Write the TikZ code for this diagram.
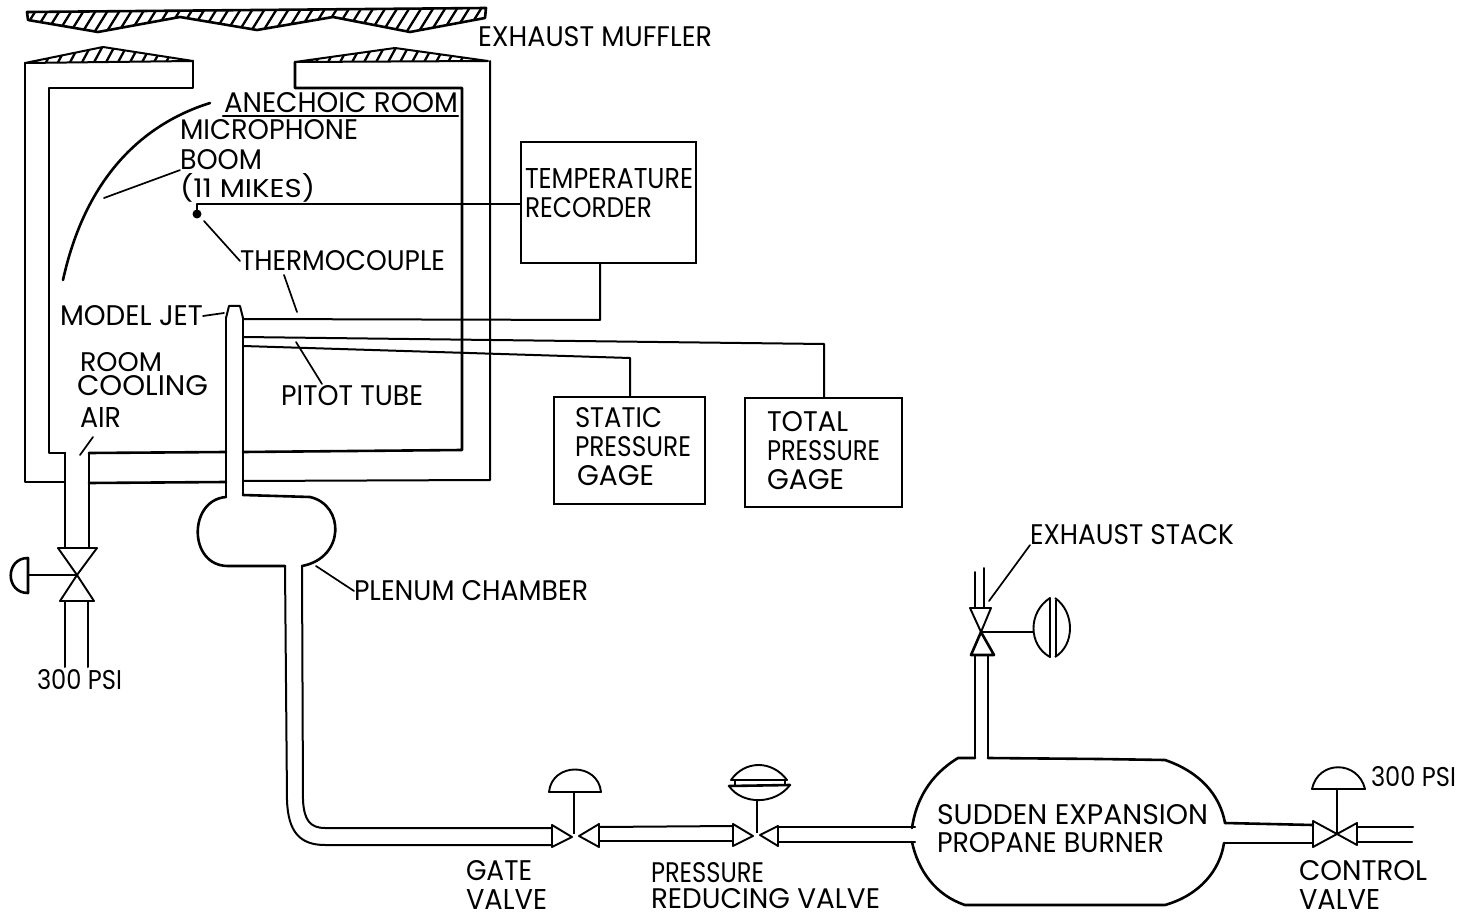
\documentclass[tikz,border=0pt]{standalone}
\usepackage{fontspec}
\setmainfont{Poppins}
\usepackage{graphicx}
\tikzset{
  wall/.style={line width=2.6pt,line join=round,line cap=round},
  pipe/.style={line width=2pt,line join=round,line cap=round},
  leader/.style={line width=1.7pt,line cap=round},
  instr/.style={line width=1.9pt,line join=round},
  boxn/.style={draw,line width=2pt,inner sep=0pt,fill=none},
  lab/.style={anchor=west,inner sep=0pt,outer sep=0pt},
  hatchline/.style={line width=2.3pt}
}
% name, left x, right x, centre y, height, text
\newcommand{\lbl}[6]{%
  \pgfmathsetlengthmacro{\lblw}{(#3-#2)*1pt}%
  \node[lab] (#1) at (#2,#4) {\resizebox{\lblw}{#5pt}{#6}};}
\begin{document}
\begin{tikzpicture}[x=1pt,y=-1pt]
\useasboundingbox (0,0) rectangle (1462,917);
% ---- muffler and roofs
\begin{scope}
 \clip (27,12) -- (486,8) -- (485,18) -- (410,32) -- (333,17) -- (257,30) -- (180,17) -- (98,32) -- (28,20) -- cycle;
 \foreach \x in {20,32,...,490}{\draw[hatchline] (\x,36) -- (\x+20,4);}
\end{scope}
\draw[wall] (27,12) -- (486,8) -- (485,18) -- (410,32) -- (333,17) -- (257,30) -- (180,17) -- (98,32) -- (28,20) -- cycle;
\begin{scope}
 \clip (25,63) -- (103,47) -- (193,61) -- cycle;
 \foreach \x in {20,32,...,200}{\draw[hatchline] (\x,66) -- (\x+13,42);}
\end{scope}
\draw[pipe] (25,63) -- (103,47) -- (193,61) -- cycle;
\begin{scope}
 \clip (295,62) -- (395,48) -- (488,61) -- cycle;
 \foreach \x in {290,302,...,490}{\draw[hatchline] (\x,66) -- (\x+13,42);}
\end{scope}
\draw[pipe] (295,62) -- (395,48) -- (488,61) -- cycle;
% ---- room walls
\draw[pipe] (25,63) -- (25,482) -- (65,482);
\draw[wall] (193,61) -- (193,88) -- (49,88) -- (49,453) -- (65,453);
\draw[wall] (295,62) -- (295,88) -- (462,88) -- (462,450) -- (243,452);
\draw[pipe] (490,61) -- (490,480) -- (243,481);
\draw[wall] (89,453) -- (226,452);
\draw[wall] (89,483) -- (226,482);
% ---- cooling air pipe and valve
\draw[wall] (65,453) -- (65,547);
\draw[wall] (89,453) -- (89,547);
\coordinate (airv) at (77,575);
\draw[instr] (58,548) -- (97,548) -- (airv) -- cycle;
\draw[instr] (60,601) -- (94,601) -- (airv) -- cycle;
\draw[wall] (airv) -- (28,575);
\draw[wall] (28,558) .. controls (5,558) and (5,593) .. (28,593) -- cycle;
\draw[pipe] (65,601) -- (65,667);
\draw[pipe] (88,601) -- (88,667);
% ---- model jet, plenum
\draw[pipe] (226,318) -- (226,497);
\draw[pipe] (243,318) -- (243,495);
\draw[pipe] (226,318) -- (229,306) -- (240,306) -- (243,318);
\draw[wall] (226,497) .. controls (188,500) and (188,566) .. (228,566) -- (285,566);
\draw[wall] (243,495) -- (310,497) .. controls (345,505) and (345,558) .. (302,566);
% ---- long pipe to gate valve
\draw[pipe] (285,566) -- (287,800) .. controls (288,832) and (300,845) .. (325,845) -- (552,845);
\draw[pipe] (302,566) -- (303,800) .. controls (304,820) and (310,828) .. (325,828) -- (552,828);
% ---- gate valve
\draw[instr] (552,825) -- (572,837) -- (552,847) -- cycle;
\draw[instr] (599,824) -- (579,836) -- (599,847) -- cycle;
\draw[instr] (574,792) -- (574,834);
\draw[instr] (549,792) .. controls (552,762) and (598,762) .. (601,792) -- cycle;
\draw[pipe] (599,827) -- (733,826);
\draw[pipe] (599,841) -- (733,841);
% ---- reducing valve
\draw[instr] (733,824) -- (753,836) -- (733,846) -- cycle;
\draw[instr] (778,826) -- (760,835) -- (778,846) -- cycle;
\draw[instr] (757,800) -- (757,833);
\draw[instr] (731,780) .. controls (745,760) and (772,760) .. (787,780) -- cycle;
\draw[instr] (735,780) -- (735,786);
\draw[instr] (785,780) -- (785,786);
\draw[wall] (729,786) -- (790,785);
\draw[instr] (729,786) .. controls (742,805) and (775,805) .. (790,785);
\draw[pipe] (778,827) -- (915,827);
\draw[pipe] (778,842) -- (915,842);
% ---- burner
\draw[wall] (912,828) .. controls (916,800) and (930,775) .. (958,758) -- (975,758);
\draw[wall] (988,758) -- (1100,759) -- (1165,760) .. controls (1200,772) and (1220,795) .. (1225,823);
\draw[wall] (912,842) .. controls (918,870) and (935,895) .. (965,905) -- (1165,905) .. controls (1200,895) and (1220,870) .. (1224,843);
% ---- stack
\draw[pipe] (975,758) -- (975,655);
\draw[pipe] (988,758) -- (988,655);
\coordinate (stackv) at (981,632);
\draw[instr] (970,608) -- (991,608) -- (stackv) -- cycle;
\draw[wall] (971,655) -- (994,655) -- (stackv) -- cycle;
\draw[pipe] (975,607) -- (975,572);
\draw[pipe] (984,607) -- (984,568);
\draw[instr] (stackv) -- (1034,632);
\draw[instr] (1050,598) .. controls (1028,612) and (1028,645) .. (1050,657) -- cycle;
\draw[instr] (1055,598) .. controls (1075,612) and (1075,645) .. (1055,657);
\draw[instr] (1056,600) -- (1056,657);
% ---- control valve
\coordinate (ctrlv) at (1337,834);
\draw[instr] (1313,821) -- (ctrlv) -- (1313,847) -- cycle;
\draw[instr] (1357,823) -- (ctrlv) -- (1357,845) -- cycle;
\draw[instr] (ctrlv) -- (1337,790);
\draw[instr] (1312,789) .. controls (1318,760) and (1358,760) .. (1365,789) -- cycle;
\draw[wall] (1225,823) -- (1313,825);
\draw[pipe] (1225,843) -- (1313,843);
\draw[pipe] (1357,827) -- (1413,827);
\draw[pipe] (1357,842) -- (1412,842);
% ---- instrument boxes
\node[boxn,minimum width=175pt,minimum height=121pt] (tempbox) at (608.5,202.5) {};
\node[boxn,minimum width=151pt,minimum height=107pt] (staticbox) at (629.5,450) {};
\node[boxn,minimum width=157pt,minimum height=109pt] (totalbox) at (823,452) {};
\coordinate (tempin) at (tempbox.west |- 0,204);
\coordinate (tempout) at (600,263);
\coordinate (staticin) at (630,396.5);
\coordinate (totalin) at (824,397.5);
\coordinate (tcdot) at (197,214);
\coordinate (jetr) at (243,319);
\fill (tcdot) circle (4.5pt);
\draw[pipe] (tcdot) -- (197,204) -- (tempin);
\draw[pipe] (tempout) -- (600,320) -- (jetr);
\draw[pipe] (243,337) -- (824,344) -- (totalin);
\draw[pipe] (243,346) -- (630,358) -- (staticin);
% ---- boom
\draw[wall] (63,280) .. controls (85,180) and (140,125) .. (210,103);
% ---- labels
\lbl{tMuffler}{478}{712}{37}{20}{EXHAUST MUFFLER}
\lbl{tRoom}{224}{458}{103}{20}{ANECHOIC ROOM}
\draw[wall] (223,116) -- (458,116);
\lbl{tMike}{180}{358}{130}{20}{MICROPHONE}
\lbl{tBoom}{180}{262}{160}{20}{BOOM}
\lbl{tMikes}{180}{315}{188}{24}{(11 MIKES)}
\lbl{tTemp}{525}{693}{179}{20}{TEMPERATURE}
\lbl{tRec}{525}{652}{208}{20}{RECORDER}
\lbl{tCouple}{240}{445}{261}{20}{THERMOCOUPLE}
\lbl{tJet}{60}{203}{316}{20}{MODEL JET}
\lbl{tRoomC}{80}{162}{362}{19}{ROOM}
\lbl{tCool}{77}{208}{386}{20}{COOLING}
\lbl{tAir}{80}{121}{417}{20}{AIR}
\lbl{tPitot}{281}{423}{396}{20}{PITOT TUBE}
\lbl{tStatic}{575}{662}{418}{20}{STATIC}
\lbl{tPress}{575}{691}{447}{20}{PRESSURE}
\lbl{tGage}{577}{654}{476}{20}{GAGE}
\lbl{tTotal}{767}{848}{422}{20}{TOTAL}
\lbl{tPressB}{767}{880}{451}{20}{PRESSURE}
\lbl{tGageB}{767}{844}{480}{20}{GAGE}
\lbl{tPlenum}{354}{588}{591}{20}{PLENUM CHAMBER}
\lbl{tStack}{1030}{1234}{535}{20}{EXHAUST STACK}
\lbl{tPsiA}{37}{122}{680}{20}{300 PSI}
\lbl{tPsiB}{1371}{1456}{777}{20}{300 PSI}
\lbl{tSudden}{937}{1208}{815}{20}{SUDDEN EXPANSION}
\lbl{tPropane}{937}{1164}{843}{20}{PROPANE BURNER}
\lbl{tGate}{466}{532}{871}{20}{GATE}
\lbl{tGateV}{466}{547}{899}{20}{VALVE}
\lbl{tPressR}{651}{764}{873}{20}{PRESSURE}
\lbl{tRedV}{651}{880}{899}{20}{REDUCING VALVE}
\lbl{tCtrl}{1299}{1427}{871}{20}{CONTROL}
\lbl{tCtrlV}{1299}{1380}{899}{20}{VALVE}
% ---- leaders
\draw[leader] (93,437) -- (80,455);
\draw[leader] (104,198) -- (tBoom.south west);
\draw[leader] (204,221) -- (tCouple.west);
\draw[leader] (284,275) -- (297,312);
\draw[leader] (tJet.east) -- (224,313);
\draw[leader] (296,342) -- (322,384);
\draw[leader] (316,566) -- (tPlenum.west);
\draw[leader] (989,601) -- (tStack.south west);
\end{tikzpicture}
\end{document}
